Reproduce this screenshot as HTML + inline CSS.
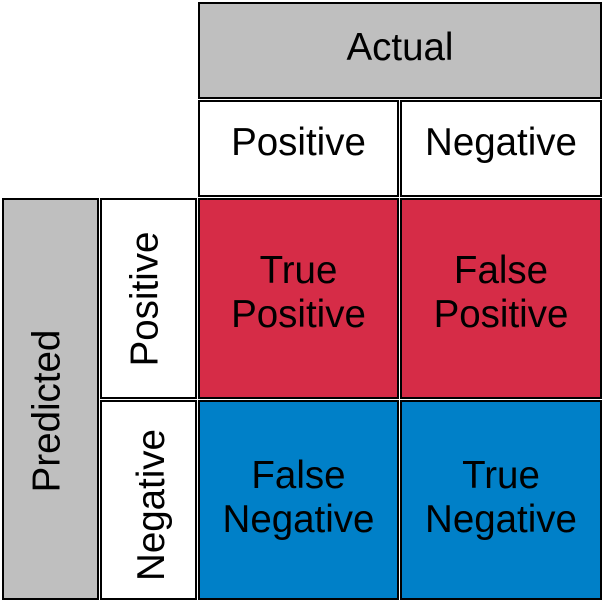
<!DOCTYPE html>
<html><head><style>
body{margin:0;width:604px;height:601px;background:#fff;position:relative;font-family:"Liberation Sans",Arial,sans-serif;overflow:hidden}
.b{position:absolute;box-sizing:border-box;border:2px solid #000;display:flex;align-items:center;justify-content:center;text-align:center;font-size:38.5px;line-height:44px;color:#000;padding-bottom:12px}
.v{transform:rotate(-90deg);white-space:nowrap}
.s{padding-bottom:0;padding-right:6px}
.lo{padding-bottom:4px}
</style></head><body>
<div class="b" style="left:198px;top:2px;width:404px;height:97px;background:#bfbfbf;padding-bottom:6px">Actual</div>
<div class="b" style="left:198px;top:100px;width:201px;height:97px;background:#fff">Positive</div>
<div class="b" style="left:400px;top:100px;width:202px;height:97px;background:#fff">Negative</div>
<div class="b s" style="left:2px;top:198px;width:97px;height:402px;background:#bfbfbf;padding-top:24px"><span class="v">Predicted</span></div>
<div class="b s" style="left:100px;top:198px;width:97px;height:201px;background:#fff"><span class="v">Positive</span></div>
<div class="b s" style="left:100px;top:400px;width:97px;height:200px;background:#fff;padding-top:10px;padding-right:0;padding-left:6px"><span class="v">Negative</span></div>
<div class="b" style="left:198px;top:198px;width:201px;height:201px;background:#d62c47">True<br>Positive</div>
<div class="b" style="left:400px;top:198px;width:202px;height:201px;background:#d62c47">False<br>Positive</div>
<div class="b lo" style="left:198px;top:400px;width:201px;height:200px;background:#0080c8">False<br>Negative</div>
<div class="b lo" style="left:400px;top:400px;width:202px;height:200px;background:#0080c8">True<br>Negative</div>
</body></html>
